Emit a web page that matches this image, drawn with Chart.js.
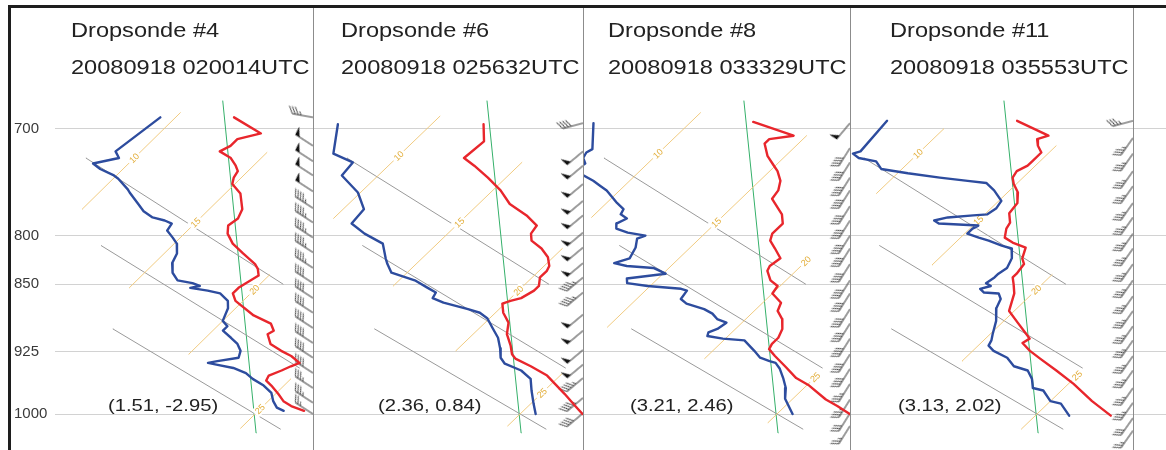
<!DOCTYPE html>
<html>
<head>
<meta charset="utf-8">
<title>Dropsonde soundings 2008-09-18</title>
<script src="https://cdn.jsdelivr.net/npm/chart.js@4.4.1/dist/chart.umd.min.js"></script>
<style>
  html, body { margin: 0; padding: 0; background: #fff; }
  #fig { position: relative; width: 1166px; height: 450px; overflow: hidden; background: #fff;
         font-family: "Liberation Sans", Arial, Helvetica, sans-serif; }
  #fig canvas { position: absolute; top: 0; }
  .rule { position: absolute; background: #1e1e1e; }
  .sep { position: absolute; top: 7px; width: 1px; height: 443px; background: #8c8c8c; }
  .txt { position: absolute; white-space: nowrap; color: #222; transform-origin: 0 0; line-height: 1; }
  .title { font-size: 20.5px; transform: scaleX(1.15); }
  .offs { font-size: 17px; transform: scaleX(1.19); }
</style>
</head>
<body>
<div id="fig"></div>
<script>
// ---------------------------------------------------------------------------
// Sounding data: pressure (hPa) and temperature / dew point (°C)
// ---------------------------------------------------------------------------
const sondeNames  = ['Dropsonde #4', 'Dropsonde #6', 'Dropsonde #8', 'Dropsonde #11'];
const launchTimes = ['20080918 020014UTC', '20080918 025632UTC', '20080918 033329UTC', '20080918 035553UTC'];
const stormOffsets = ['(1.51, -2.95)', '(2.36, 0.84)', '(3.21, 2.46)', '(3.13, 2.02)'];
const pressureTicks = [700, 800, 850, 925, 1000];

// Dropsonde #4
const sonde4TempP = [690, 704, 709, 715, 720, 726, 733, 738, 744, 750, 759, 774, 783, 790, 798, 808, 818, 829, 834, 841, 849, 854, 860, 868, 884, 893, 901, 905, 916, 924, 930, 938, 942, 947, 953, 959, 965, 975, 984, 990, 996];
const sonde4TempT = [12.3, 14.0, 13.3, 13.3, 13.1, 13.8, 14.3, 14.6, 14.7, 14.9, 15.6, 16.3, 16.5, 16.4, 16.7, 17.3, 18.1, 19.0, 19.3, 19.6, 19.4, 19.3, 19.3, 19.7, 21.0, 22.0, 22.4, 22.3, 22.8, 23.5, 24.1, 24.7, 24.5, 24.3, 24.0, 24.1, 24.5, 25.1, 25.6, 26.1, 26.8];
const sonde4DewP  = [690, 720, 726, 731, 736, 742, 745, 755, 758, 769, 776, 782, 785, 788, 795, 802, 808, 818, 828, 838, 846, 849, 852, 854, 857, 860, 868, 876, 890, 896, 901, 909, 916, 924, 932, 936, 938, 940, 944, 950, 957, 965, 974, 984, 992, 996];
const sonde4DewT  = [9.4, 9.0, 9.4, 8.6, 9.1, 9.9, 10.2, 11.0, 11.2, 12.0, 12.5, 13.1, 13.7, 14.1, 14.2, 14.7, 15.1, 15.5, 15.7, 16.1, 16.6, 17.3, 17.7, 17.4, 18.2, 18.8, 19.4, 19.7, 20.0, 20.4, 20.4, 21.0, 21.5, 21.9, 22.1, 21.4, 21.1, 21.5, 22.3, 23.0, 23.5, 24.2, 24.8, 25.2, 25.6, 26.0];

// Dropsonde #6
const sonde6TempP = [696, 711, 726, 733, 744, 756, 769, 780, 790, 798, 805, 813, 822, 831, 836, 843, 852, 857, 865, 868, 871, 881, 892, 905, 918, 928, 933, 942, 953, 975, 990, 1000];
const sonde6TempT = [12.0, 12.7, 12.6, 13.3, 14.3, 15.3, 16.2, 17.3, 18.1, 18.2, 18.5, 19.2, 19.8, 20.2, 20.3, 20.3, 20.6, 20.6, 20.4, 20.1, 19.9, 20.3, 20.9, 21.3, 21.9, 22.3, 22.6, 23.5, 24.5, 25.9, 26.8, 27.4];
const sonde6DewP  = [696, 722, 730, 742, 758, 774, 788, 798, 808, 823, 829, 838, 846, 854, 859, 865, 870, 877, 881, 887, 898, 909, 921, 932, 939, 947, 957, 971, 987, 1000];
const sonde6DewT  = [6.4, 7.4, 8.5, 8.6, 9.9, 10.8, 10.9, 11.8, 12.9, 13.6, 13.9, 14.4, 15.6, 16.4, 16.9, 17.0, 17.6, 18.8, 19.4, 19.9, 20.5, 21.1, 21.6, 22.0, 22.4, 23.3, 24.0, 24.5, 25.1, 25.6];

// Dropsonde #8
const sonde8TempP = [694, 706, 709, 713, 724, 731, 738, 747, 756, 764, 773, 779, 788, 798, 805, 813, 823, 831, 836, 846, 852, 860, 870, 879, 888, 899, 909, 916, 922, 930, 942, 956, 965, 982, 990, 1000];
const sonde8TempT = [12.4, 14.5, 13.7, 13.7, 14.3, 14.8, 15.3, 15.8, 16.1, 16.2, 16.8, 17.2, 17.6, 17.6, 17.8, 18.3, 18.9, 18.8, 18.9, 19.4, 19.9, 20.0, 20.7, 20.9, 21.4, 21.8, 22.0, 22.0, 22.1, 22.6, 23.4, 24.3, 25.1, 26.3, 27.0, 27.8];
const sonde8DewP  = [695, 718, 721, 726, 731, 736, 741, 747, 752, 756, 764, 768, 774, 779, 783, 788, 793, 797, 800, 803, 812, 823, 828, 831, 833, 839, 844, 849, 852, 855, 857, 866, 871, 877, 882, 888, 892, 899, 903, 907, 910, 912, 924, 932, 936, 938, 945, 956, 968, 981, 1000];
const sonde8DewT  = [6.3, 7.3, 7.2, 7.3, 7.6, 7.5, 7.9, 8.6, 9.1, 9.5, 10.1, 10.4, 10.9, 11.0, 11.4, 11.2, 11.4, 12.0, 12.8, 12.6, 12.9, 13.1, 12.7, 13.3, 14.4, 15.1, 13.8, 14.0, 14.9, 16.3, 16.6, 16.7, 17.1, 18.0, 18.5, 18.9, 19.4, 19.3, 19.1, 19.2, 19.9, 20.8, 21.6, 22.1, 22.6, 22.9, 23.3, 23.8, 24.3, 24.7, 25.6];

// Dropsonde #11
const sonde11TempP = [693, 706, 709, 715, 721, 729, 733, 738, 744, 750, 758, 768, 778, 787, 793, 802, 807, 812, 823, 829, 839, 843, 850, 860, 879, 892, 905, 910, 915, 924, 933, 947, 963, 984, 1002];
const sonde11TempT = [12.5, 14.3, 14.0, 14.3, 14.7, 14.7, 14.7, 14.5, 14.6, 14.9, 15.4, 15.8, 15.9, 16.3, 16.4, 16.7, 17.2, 17.9, 18.2, 18.5, 18.6, 18.6, 18.9, 19.3, 19.8, 20.6, 21.4, 21.7, 21.6, 22.2, 22.9, 24.0, 25.2, 26.6, 27.9];
const sonde11DewP  = [693, 720, 722, 726, 729, 736, 740, 744, 747, 749, 756, 766, 773, 779, 780, 782, 785, 788, 789, 790, 793, 798, 802, 805, 810, 813, 823, 833, 839, 843, 849, 852, 855, 859, 860, 866, 876, 890, 905, 912, 918, 924, 932, 942, 947, 957, 968, 971, 984, 987, 1002];
const sonde11DewT  = [7.5, 7.7, 7.5, 7.9, 8.7, 9.2, 10.4, 11.8, 13.0, 13.8, 14.4, 15.1, 15.2, 15.1, 14.6, 13.7, 13.3, 13.6, 14.4, 15.2, 15.1, 15.1, 15.7, 16.2, 16.9, 17.4, 17.8, 18.0, 17.9, 17.9, 17.8, 18.1, 17.8, 18.1, 18.7, 19.0, 19.2, 19.7, 20.1, 20.3, 20.4, 20.8, 21.6, 22.2, 22.9, 23.4, 23.8, 24.3, 25.0, 25.5, 26.3];

// Wind profiles: pressure (hPa), speed (kt), direction (deg)
const sonde4WindP   = [690, 715, 729, 742, 757, 773, 787, 802, 817, 833, 849, 865, 881, 898, 915, 932, 950, 968, 986, 1000];
const sonde4WindKt  = [35, 50, 50, 50, 50, 45, 45, 45, 45, 45, 40, 40, 40, 40, 40, 40, 40, 35, 35, 25];
const sonde4WindDir = [280, 303, 303, 303, 303, 303, 303, 303, 303, 303, 303, 303, 303, 303, 303, 303, 303, 303, 303, 303];

const sonde6WindP   = [695, 720, 733, 750, 766, 780, 797, 812, 828, 843, 859, 883, 901, 923, 940, 956, 980, 999];
const sonde6WindKt  = [40, 50, 50, 50, 50, 50, 50, 50, 50, 45, 45, 50, 50, 50, 50, 45, 45, 40];
const sonde6WindDir = [255, 230, 230, 230, 230, 230, 230, 230, 230, 230, 230, 230, 230, 230, 230, 230, 230, 230];

const sonde8WindP   = [695, 717, 730, 744, 756, 771, 785, 800, 813, 829, 846, 860, 877, 893, 910, 928, 945, 963, 982, 999, 1015];
const sonde8WindKt  = [50, 40, 40, 40, 40, 40, 40, 40, 40, 40, 40, 40, 40, 40, 40, 40, 40, 35, 35, 30, 25];
const sonde8WindDir = [220, 212, 212, 212, 212, 212, 212, 212, 212, 212, 212, 212, 212, 212, 212, 212, 212, 212, 212, 212, 212];

const sonde11WindP   = [693, 708, 722, 738, 752, 768, 782, 798, 813, 829, 846, 863, 879, 896, 912, 930, 947, 968, 986, 1005, 1021];
const sonde11WindKt  = [35, 35, 35, 35, 35, 35, 35, 35, 35, 35, 35, 35, 35, 35, 35, 35, 35, 35, 35, 30, 25];
const sonde11WindDir = [255, 215, 215, 215, 215, 215, 215, 215, 215, 215, 215, 215, 215, 215, 215, 215, 215, 215, 215, 215, 215];

// Background diagram: isotherms (°C) with their drawn pressure spans and label levels
const isothermT = [10, 15, 20, 25];
const isothermSpan = [
  [[774, 686], [854, 721], [928, 840], [1018, 957]],
  [[783, 689], [852, 730], [924, 813], [1015, 951]],
  [[782, 686], [897, 706], [933, 823], [1011, 951]],
  [[759, 700], [830, 715], [936, 840], [1019, 951]]
];
const isothermLabelP = [
  [726, 787, 856, 994],
  [724, 787, 857, 974],
  [722, 787, 826, 955],
  [722, 785, 856, 953]
];
// Dry adiabats (theta = 308, 303, 298 K): end points (°C, hPa)
const adiabatT = [[8.1, 20.9], [12.2, 24.9], [16.0, 26.6]];
const adiabatP = [[726, 850], [810, 944], [899, 1019]];
// Saturated reference curve
const moistT = [25.8, 11.2];
const moistP = [1024, 676];

// ---------------------------------------------------------------------------
// Layout and style
// ---------------------------------------------------------------------------
const SKEW = 32;                 // isotherm skew, °C per unit ln(1000/p)
const P_TOP = 595.8, P_BOTTOM = 1046.0;
const panelLeft  = [12, 313, 583, 850];
const panelWidth = [301, 270, 267, 316];
const xMin = [17.13, 17.04, 17.54, 17.81];
const xMax = [27.28, 27.42, 27.81, 29.96];
const barbColumnX = [27.28, 27.42, 27.81, 28.69];
const separators = [313, 583, 850, 1133];
const titleLeft = [71, 341, 608, 890];
const offsetLeft = [108, 378, 630, 898];

const RED = '#e8262c', BLUE = '#2d4c9e', GRAY = '#9a9a9a', YELLOW = '#f1cb80', ISO_TEXT = '#e2ad38', GREEN = '#35b06a';
const FONT = '"Liberation Sans", Arial, Helvetica, sans-serif';

const soundings = [
  { tp: sonde4TempP,  tt: sonde4TempT,  dp: sonde4DewP,  dt: sonde4DewT,  wp: sonde4WindP,  wk: sonde4WindKt,  wd: sonde4WindDir },
  { tp: sonde6TempP,  tt: sonde6TempT,  dp: sonde6DewP,  dt: sonde6DewT,  wp: sonde6WindP,  wk: sonde6WindKt,  wd: sonde6WindDir },
  { tp: sonde8TempP,  tt: sonde8TempT,  dp: sonde8DewP,  dt: sonde8DewT,  wp: sonde8WindP,  wk: sonde8WindKt,  wd: sonde8WindDir },
  { tp: sonde11TempP, tt: sonde11TempT, dp: sonde11DewP, dt: sonde11DewT, wp: sonde11WindP, wk: sonde11WindKt, wd: sonde11WindDir }
];

// skewed abscissa: temperature shifted with log-pressure
function toXY(ts, ps) {
  return ts.map((t, j) => ({ x: t + SKEW * Math.log(1000 / ps[j]), y: ps[j] }));
}

// wind barb glyph: base at the canvas centre, staff pointing north
const glyphCache = {};
function barbGlyph(kt) {
  if (glyphCache[kt]) return glyphCache[kt];
  const R = 32, L = 21, F = 8.5, GAP = 3;
  const cv = document.createElement('canvas');
  cv.width = cv.height = R * 2;
  const g = cv.getContext('2d');
  g.translate(R, R);
  g.lineWidth = 1;
  g.strokeStyle = '#3c3c3c';
  g.fillStyle = '#111';
  g.beginPath(); g.moveTo(0, 0); g.lineTo(0, -L); g.stroke();
  let rest = Math.round(kt / 5) * 5;
  let pos = -L;
  while (rest >= 50) {
    g.beginPath(); g.moveTo(0, pos); g.lineTo(F, pos - 1); g.lineTo(0, pos + 5); g.closePath(); g.fill();
    pos += 6; rest -= 50;
  }
  while (rest >= 10) {
    g.beginPath(); g.moveTo(0, pos); g.lineTo(F * 0.866, pos - F * 0.5); g.stroke();
    pos += GAP; rest -= 10;
  }
  if (rest >= 5) {
    if (pos === -L) pos += GAP;
    g.beginPath(); g.moveTo(0, pos); g.lineTo(F * 0.433, pos - F * 0.25); g.stroke();
  }
  glyphCache[kt] = cv;
  return cv;
}

// isotherm value labels, drawn on a white patch right after each isotherm
const isoLabels = {
  id: 'isoLabels',
  afterDatasetDraw(chart, args) {
    const ds = chart.data.datasets[args.index];
    if (ds.isoT === undefined) return;
    const p = ds.isoLabelP;
    const x = chart.scales.x.getPixelForValue(ds.isoT + SKEW * Math.log(1000 / p));
    const y = chart.scales.y.getPixelForValue(p);
    const pts = args.meta.data;
    const ang = Math.atan2(pts[1].y - pts[0].y, pts[1].x - pts[0].x);
    const ctx = chart.ctx;
    ctx.save();
    ctx.translate(x, y);
    ctx.rotate(ang);
    ctx.font = '9px ' + FONT;
    const txt = String(ds.isoT);
    const w = ctx.measureText(txt).width;
    ctx.fillStyle = '#fff';
    ctx.fillRect(-w / 2 - 2, -5, w + 4, 10);
    ctx.fillStyle = ISO_TEXT;
    ctx.textAlign = 'center';
    ctx.textBaseline = 'middle';
    ctx.fillText(txt, 0, 0.5);
    ctx.restore();
  }
};

const fig = document.getElementById('fig');

function makePanel(i) {
  const cv = document.createElement('canvas');
  cv.width = panelWidth[i];
  cv.height = 450;
  cv.style.left = panelLeft[i] + 'px';
  fig.appendChild(cv);

  const s = soundings[i];
  const lineBase = { showLine: true, pointRadius: 0, tension: 0, fill: false, borderJoinStyle: 'round', borderCapStyle: 'round' };
  const datasets = [
    Object.assign({ label: 'temperature', data: toXY(s.tt, s.tp), borderColor: RED, borderWidth: 2.4, order: 1 }, lineBase),
    Object.assign({ label: 'dew point', data: toXY(s.dt, s.dp), borderColor: BLUE, borderWidth: 2.4, order: 1 }, lineBase),
    {
      label: 'wind',
      data: s.wp.map(p => ({ x: barbColumnX[i], y: p })),
      showLine: false,
      pointRadius: 3,
      pointStyle: c => barbGlyph(s.wk[c.dataIndex]),
      pointRotation: c => s.wd[c.dataIndex],
      clip: false,
      order: 1
    },
    Object.assign({ label: 'moist', data: toXY(moistT, moistP), borderColor: GREEN, borderWidth: 1, order: 12 }, lineBase)
  ];
  adiabatT.forEach((ts, k) => {
    datasets.push(Object.assign({ label: 'adiabat', data: toXY(ts, adiabatP[k]), borderColor: GRAY, borderWidth: 1, order: 11 }, lineBase));
  });
  isothermT.forEach((t, k) => {
    datasets.push(Object.assign({
      label: 'isotherm', data: toXY([t, t], isothermSpan[i][k]), borderColor: YELLOW, borderWidth: 1, order: 10,
      isoT: t, isoLabelP: isothermLabelP[i][k]
    }, lineBase));
  });

  const first = i === 0;
  new Chart(cv, {
    type: 'scatter',
    data: { datasets },
    plugins: [isoLabels],
    options: {
      responsive: false,
      animation: false,
      events: [],
      layout: { autoPadding: false, padding: { left: first ? 2 : 0, right: 0, top: 0, bottom: 0 } },
      plugins: { legend: { display: false }, tooltip: { enabled: false } },
      scales: {
        x: { type: 'linear', display: false, min: xMin[i], max: xMax[i] },
        y: {
          type: 'logarithmic',
          reverse: true,
          bounds: 'data',
          min: P_TOP,
          max: P_BOTTOM,
          border: { display: false },
          grid: { color: '#d2d2d2', lineWidth: 1, drawTicks: false },
          ticks: {
            display: first,
            crossAlign: 'far',
            padding: 0,
            color: '#3a3a3a',
            font: { family: FONT, size: 15 },
            callback: v => String(v)
          },
          afterBuildTicks: sc => { sc.ticks = pressureTicks.map(v => ({ value: v })); },
          afterFit: sc => { sc.width = first ? 41 : 0; sc.paddingTop = 0; sc.paddingBottom = 0; }
        }
      }
    }
  });
}

for (let i = 0; i < 4; i++) makePanel(i);

// frame and panel dividers
separators.forEach(x => {
  const d = document.createElement('div');
  d.className = 'sep';
  d.style.left = x + 'px';
  fig.appendChild(d);
});
[['8px', '5px', '1158px', '3px'], ['8px', '5px', '3px', '445px']].forEach(([l, t, w, h]) => {
  const d = document.createElement('div');
  d.className = 'rule';
  Object.assign(d.style, { left: l, top: t, width: w, height: h });
  fig.appendChild(d);
});

// panel headings and storm-relative positions
function addText(txt, cls, left, top) {
  const d = document.createElement('div');
  d.className = 'txt ' + cls;
  d.textContent = txt;
  d.style.left = left + 'px';
  d.style.top = top + 'px';
  fig.appendChild(d);
}
for (let i = 0; i < 4; i++) {
  addText(sondeNames[i], 'title', titleLeft[i], 20);
  addText(launchTimes[i], 'title', titleLeft[i], 56.6);
  addText(stormOffsets[i], 'offs', offsetLeft[i], 396.6);
}
</script>
</body>
</html>
